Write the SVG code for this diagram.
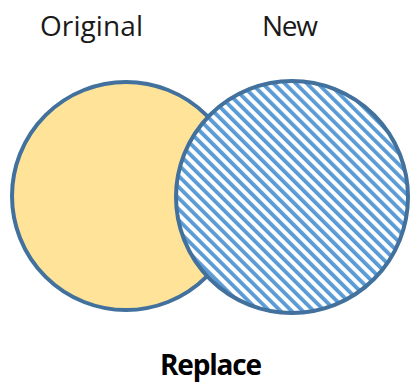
<svg xmlns="http://www.w3.org/2000/svg" width="413" height="387" viewBox="0 0 413 387">
  <style>
    .label { font-family: "Open Sans", "Liberation Sans", sans-serif; font-size: 28px; fill: #1a1a1a; }
    .title { font-family: "Open Sans", "Liberation Sans", sans-serif; font-size: 28px; font-weight: bold; fill: #000; }
    .ring { stroke: #41719C; stroke-width: 4; }
  </style>
  <defs>
    <pattern id="hatch" patternUnits="userSpaceOnUse" width="7.8" height="7.8" patternTransform="rotate(-45)">
      <rect x="0" y="0" width="7.8" height="7.8" fill="#ffffff"/>
      <rect x="0" y="0" width="3.8" height="7.8" fill="#5B9BD5"/>
    </pattern>
  </defs>
  <rect width="413" height="387" fill="#ffffff"/>
  <g id="original">
    <circle class="ring" cx="126" cy="196" r="114" fill="#FFE399"/>
    <text class="label" x="91.5" y="36" text-anchor="middle" textLength="103">Original</text>
  </g>
  <g id="new">
    <circle class="ring" cx="292" cy="197" r="116" fill="url(#hatch)"/>
    <text class="label" x="290" y="36" text-anchor="middle" textLength="56">New</text>
  </g>
  <g id="connectors"></g>
  <g id="caption">
    <text class="title" x="211" y="375" text-anchor="middle" textLength="102">Replace</text>
  </g>
</svg>
